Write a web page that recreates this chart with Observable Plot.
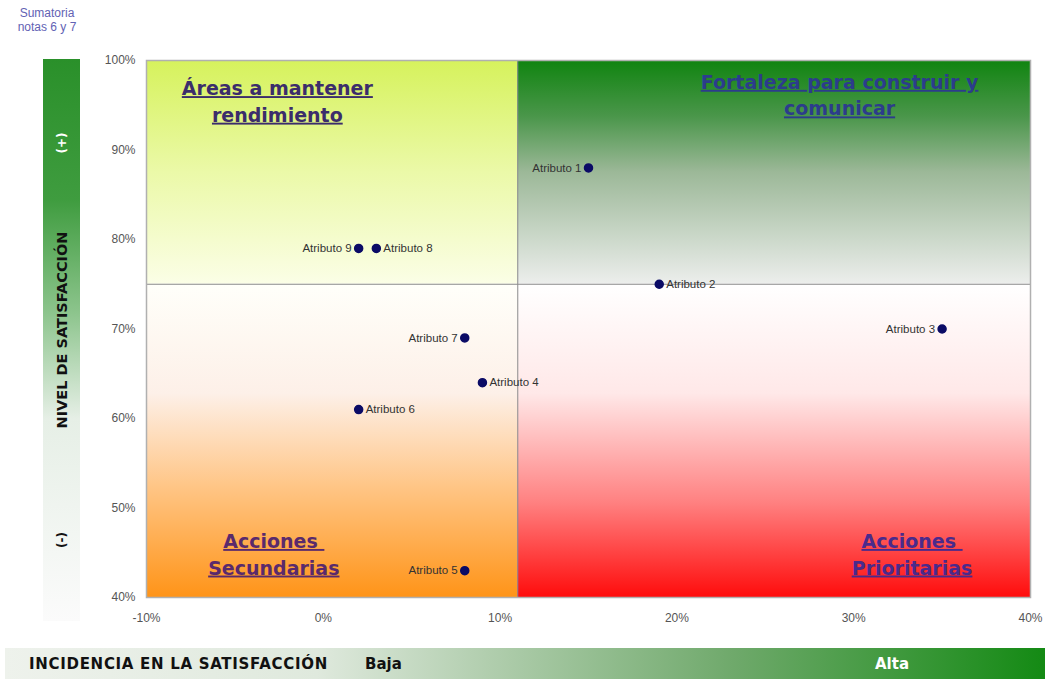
<!DOCTYPE html>
<html>
<head>
<meta charset="utf-8">
<script src="https://cdn.jsdelivr.net/npm/d3@7"></script>
<script src="https://cdn.jsdelivr.net/npm/@observablehq/plot@0.6"></script>
<style>
  html, body { margin: 0; padding: 0; background: #fff; }
  #wrap { position: relative; width: 1057px; height: 679px; font-family: "Liberation Sans", Arial, sans-serif; overflow: hidden; }
  #chart { position: absolute; left: 0; top: 0; }
  #sumatoria { position: absolute; left: 2px; top: 6px; width: 90px; text-align: center; font-size: 12px; line-height: 14px; color: #6262b4; }
  #leftbar { position: absolute; left: 43px; top: 59px; width: 37px; height: 562px;
    background: linear-gradient(to bottom, #2a902a 0%, #3f9c3f 25%, #8cc48c 45%, #e6efe6 64%, #fbfbfb 100%); }
  #leftbar .rot { position: absolute; left: 50%; transform: translate(-50%, -50%) rotate(-90deg); white-space: nowrap; font-weight: bold; font-family: "DejaVu Sans", sans-serif; }
  #bottombar { position: absolute; left: 5px; top: 648px; width: 1040px; height: 31px;
    background: linear-gradient(to right, #eef2ec 0%, #dfe9dd 30%, #b5d0b2 45%, #6fa96b 70%, #148a14 100%); }
  #bottombar span { position: absolute; top: 7px; font-weight: bold; font-size: 15px; font-family: "DejaVu Sans", sans-serif; }
</style>
</head>
<body>
<div id="wrap">
  <div id="chart"></div>
  <div id="sumatoria">Sumatoria<br>notas 6 y 7</div>
  <div id="leftbar">
    <div class="rot" style="top:84px;color:#ffffff;font-size:12px;">(+)</div>
    <div class="rot" style="top:271px;color:#111;font-size:14.5px;">NIVEL DE SATISFACCIÓN</div>
    <div class="rot" style="top:481px;color:#111;font-size:12px;">(-)</div>
  </div>
  <div id="bottombar">
    <span style="left:24px;color:#111;letter-spacing:0.7px;">INCIDENCIA EN LA SATISFACCIÓN</span>
    <span style="left:360px;color:#111;">Baja</span>
    <span style="left:870px;color:#ffffff;">Alta</span>
  </div>
</div>
<script>
// ---- data ----
const atributos = ["Atributo 1","Atributo 2","Atributo 3","Atributo 4","Atributo 5","Atributo 6","Atributo 7","Atributo 8","Atributo 9"];
const incidencia = [15, 19, 35, 9, 8, 2, 8, 3, 2];          // x, %
const satisfaccion = [88, 75, 70, 64, 43, 61, 69, 79, 79];  // y, %
const labelSide = ["left","right","left","right","left","right","left","right","left"];

const xTicks = [-10, 0, 10, 20, 30, 40];
const yTicks = [40, 50, 60, 70, 80, 90, 100];
const xDivider = 11;
const yDivider = 75;

const quadrantNames = ["Áreas a mantener\nrendimiento", "Fortaleza para construir y\ncomunicar", "Acciones \nSecundarias", "Acciones \nPrioritarias"];
const quadrantLabelX = [-2.6, 29.2, -2.8, 33.3];
const quadrantLabelY = [95.6, 96.3, 45, 45];
const quadrantLabelColor = ["#3b2d6b", "#2c3c8c", "#5a2a6c", "#4a2a8c"];

const points = atributos.map((name, i) => ({name, x: incidencia[i], y: satisfaccion[i], side: labelSide[i]}));
const quads = [
  {x1: xTicks[0], x2: xDivider, y1: yDivider, y2: 100, fill: "url(#gTL)"},
  {x1: xDivider, x2: 40, y1: yDivider, y2: 100, fill: "url(#gTR)"},
  {x1: xTicks[0], x2: xDivider, y1: 40, y2: yDivider, fill: "url(#gBL)"},
  {x1: xDivider, x2: 40, y1: 40, y2: yDivider, fill: "url(#gBR)"}
];
const qlabels = quadrantNames.map((t, i) => ({t, x: quadrantLabelX[i], y: quadrantLabelY[i], c: quadrantLabelColor[i]}));

const plot = Plot.plot({
  width: 1057,
  height: 640,
  marginLeft: 146,
  marginRight: 27,
  marginTop: 60,
  marginBottom: 43,
  style: {fontFamily: "'Liberation Sans', Arial, sans-serif", color: "#555", background: "transparent"},
  x: {domain: [-10, 40]},
  y: {domain: [40, 100]},
  marks: [
    ...quads.map(q => Plot.rect([q], {x1: "x1", x2: "x2", y1: "y1", y2: "y2", fill: q.fill})),
    Plot.ruleX([xDivider], {stroke: "#8a8a8a", strokeWidth: 1}),
    Plot.ruleY([yDivider], {stroke: "#8a8a8a", strokeWidth: 1}),
    Plot.frame({stroke: "#b0b0b0", strokeWidth: 1.5}),
    Plot.axisX({ticks: xTicks, tickFormat: d => d + "%", tickSize: 0, tickPadding: 16, fontSize: 12, label: null}),
    Plot.axisY({ticks: yTicks, tickFormat: d => d + "%", tickSize: 0, tickPadding: 11, fontSize: 12, label: null}),
    ...qlabels.map(q => Plot.text([q], {x: "x", y: "y", text: "t", fill: q.c, fontSize: 19, fontWeight: "bold", fontFamily: "DejaVu Sans", lineHeight: 1.4, textAnchor: "middle"})),
    Plot.dot(points, {x: "x", y: "y", r: 4, fill: "#0b0b66", stroke: "#0b0b66"}),
    Plot.text(points.filter(d => d.side === "left"), {x: "x", y: "y", text: "name", textAnchor: "end", dx: -7, fontSize: 11.5, fill: "#333"}),
    Plot.text(points.filter(d => d.side === "right"), {x: "x", y: "y", text: "name", textAnchor: "start", dx: 7, fontSize: 11.5, fill: "#333"})
  ]
});

const svg = d3.select(plot);
const defs = svg.insert("defs", ":first-child");
function grad(id, stops) {
  const g = defs.append("linearGradient").attr("id", id).attr("x1", 0).attr("y1", 0).attr("x2", 0).attr("y2", 1);
  stops.forEach(([o, c]) => g.append("stop").attr("offset", o).attr("stop-color", c));
}
grad("gTL", [[0, "#d6f25c"], [0.5, "#ebf9a8"], [1, "#fbfee6"]]);
grad("gTR", [[0, "#108410"], [0.25, "#4a964a"], [0.5, "#9cb898"], [1, "#eceeec"]]);
grad("gBL", [[0, "#fffffa"], [0.35, "#fdf0e8"], [0.65, "#ffc585"], [1, "#ff9418"]]);
grad("gBR", [[0, "#ffffff"], [0.35, "#ffe8e8"], [0.7, "#ff8080"], [1, "#ff0c0c"]]);
svg.selectAll('g[font-size="19"] text').style("text-decoration", "underline");

document.getElementById("chart").appendChild(plot);
</script>
</body>
</html>
